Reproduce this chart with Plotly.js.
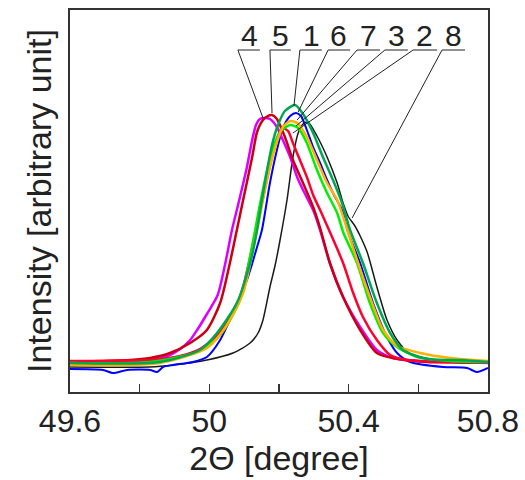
<!DOCTYPE html>
<html>
<head>
<meta charset="utf-8">
<script src="https://cdn.plot.ly/plotly-3.0.1.min.js"></script>
<style>html,body{margin:0;padding:0;background:#fff;}#chart{width:525px;height:480px;}</style>
</head>
<body>
<div id="chart"></div>
<script>
// ---- Data (2Theta in degrees, intensity in arbitrary units) ----
const x4 = [49.600,49.686,49.772,49.830,49.887,49.916,49.945,49.965,49.993,50.024,50.046,50.065,50.088,50.108,50.123,50.134,50.145,50.160,50.174,50.194,50.211,50.232,50.252,50.269,50.298,50.318,50.346,50.384,50.433,50.481,50.527,50.605,50.720,50.800];
const y4 = [30,30,31,32,37,43,52,62,78,97,129,162,195,225,252,267,273,274,273,265,252,235,215,202,182,162,129,95,65,42,34,31,30,29];

const x5 = [49.600,49.686,49.772,49.830,49.887,49.945,49.993,50.031,50.059,50.079,50.097,50.123,50.137,50.154,50.168,50.180,50.194,50.217,50.240,50.269,50.298,50.318,50.346,50.384,50.433,50.481,50.527,50.625,50.800];
const y5 = [30,31,32,34,39,49,62,89,129,162,192,235,260,272,276,277,273,255,232,209,185,164,129,95,62,39,34,30,30];

const x2 = [49.600,49.830,49.916,49.973,50.031,50.088,50.125,50.145,50.166,50.183,50.197,50.211,50.226,50.240,50.260,50.280,50.298,50.318,50.346,50.384,50.413,50.441,50.481,50.519,50.567,50.662,50.800];
const y2 = [31,32,36,43,60,95,147,180,214,240,256,264,261,249,232,215,197,182,160,129,99,75,52,37,32,30,30];

const x3 = [49.600,49.830,49.973,50.031,50.088,50.125,50.145,50.166,50.186,50.206,50.232,50.255,50.280,50.309,50.338,50.367,50.384,50.424,50.461,50.499,50.539,50.596,50.691,50.800];
const y3 = [29,30,41,57,92,150,187,222,247,261,267,264,249,222,199,179,160,129,89,59,45,35,31,30];

const x7 = [49.600,49.858,49.993,50.045,50.097,50.131,50.154,50.174,50.194,50.211,50.232,50.252,50.280,50.309,50.338,50.367,50.390,50.424,50.461,50.499,50.539,50.605,50.691,50.800];
const y7 = [27,29,44,64,99,152,192,225,250,265,271,269,255,232,209,192,169,132,95,62,46,39,34,31];

const x1 = [49.600,49.858,49.973,50.022,50.079,50.117,50.137,50.151,50.166,50.180,50.197,50.217,50.246,50.269,50.298,50.326,50.355,50.381,50.404,50.441,50.481,50.519,50.556,50.625,50.720,50.800];
const y1 = [29,30,42,59,89,129,162,192,222,247,267,281,287,278,259,235,212,189,162,129,89,59,42,33,32,30];

const x6 = [49.600,49.695,49.723,49.764,49.830,49.850,49.867,49.896,49.953,49.993,50.031,50.068,50.108,50.137,50.151,50.174,50.194,50.211,50.232,50.249,50.263,50.280,50.298,50.318,50.338,50.355,50.381,50.398,50.433,50.470,50.510,50.539,50.576,50.671,50.740,50.768,50.800];
const y6 = [23,22,19,22,22,20,25,27,30,35,52,79,112,145,162,209,242,264,276,279,276,262,245,229,212,199,182,160,129,89,55,39,30,25,24,20,24];

const x8 = [49.600,49.830,49.896,49.993,50.068,50.117,50.140,50.154,50.174,50.189,50.203,50.223,50.240,50.255,50.269,50.283,50.309,50.338,50.367,50.384,50.398,50.418,50.433,50.453,50.481,50.510,50.539,50.576,50.671,50.749,50.800];
const y8 = [25,25,27,32,39,49,59,72,105,127,152,192,235,259,268,270,256,235,209,189,176,166,156,140,105,72,52,38,31,29,31];

// tick values and labels
const tickVals = [49.6, 49.8, 50.0, 50.2, 50.4, 50.6, 50.8];
const tickText = ['49.6', '', '50', '', '50.4', '', '50.8'];

// curve labels and leader lines
const labelNames = ['4','5','1','6','7','3','2','8'];
const labelX     = [50.114,50.204,50.292,50.372,50.457,50.537,50.619,50.701];
const barStartX  = [50.082,50.174,50.260,50.341,50.424,50.504,50.585,50.668];
const barEndX    = [50.145,50.234,50.323,50.404,50.490,50.570,50.654,50.734];
const leaderEndX = [50.154,50.180,50.243,50.255,50.252,50.249,50.240,50.410];
const leaderEndY = [274,279,286,280,272,266,259,174];
const labelY = 357, barY = 342;

const series = [
  {x: x8, y: y8, color: '#1a1a1a', w: 1.5},
  {x: x6, y: y6, color: '#0000ff', w: 2},
  {x: x4, y: y4, color: '#dd00ff', w: 2.5},
  {x: x5, y: y5, color: '#c8000f', w: 2.5},
  {x: x2, y: y2, color: '#ff0030', w: 2.5},
  {x: x3, y: y3, color: '#00ee00', w: 2.5},
  {x: x7, y: y7, color: '#ffb000', w: 2.5},
  {x: x1, y: y1, color: '#00a651', w: 2.5}
];

const traces = series.map(s => ({
  x: s.x, y: s.y, type: 'scatter', mode: 'lines',
  line: {color: s.color, width: s.w, shape: 'spline', smoothing: 0.7},
  hoverinfo: 'skip', showlegend: false
}));

const shapes = [];
const annotations = [];
for (let i = 0; i < labelNames.length; i++) {
  shapes.push({type: 'line', xref: 'x', yref: 'y', x0: barStartX[i], x1: barEndX[i], y0: barY, y1: barY, line: {color: '#222', width: 1}});
  shapes.push({type: 'line', xref: 'x', yref: 'y', x0: barStartX[i], x1: leaderEndX[i], y0: barY, y1: leaderEndY[i], line: {color: '#222', width: 1}});
  annotations.push({x: labelX[i], y: labelY, xref: 'x', yref: 'y', text: labelNames[i], showarrow: false,
    font: {family: 'Liberation Sans, Arial, sans-serif', size: 30, color: '#222'}, yanchor: 'middle'});
}

const layout = {
  width: 525, height: 480,
  margin: {l: 70, r: 37, t: 10, b: 88},
  paper_bgcolor: '#fff', plot_bgcolor: '#fff',
  font: {family: 'Liberation Sans, Arial, sans-serif', color: '#222'},
  xaxis: {
    range: [49.6, 50.8], tickmode: 'array', tickvals: tickVals, ticktext: tickText,
    ticks: 'inside', ticklen: 8, tickwidth: 1.5, tickcolor: '#333',
    showline: true, mirror: true, linecolor: '#333', linewidth: 2,
    showgrid: false, zeroline: false,
    tickfont: {size: 32, color: '#222'},
    title: {text: '2\u0398 [degree]', font: {size: 34, color: '#222'}, standoff: 6}
  },
  yaxis: {
    range: [0, 382], showticklabels: false, ticks: '',
    showline: true, mirror: true, linecolor: '#333', linewidth: 2,
    showgrid: false, zeroline: false,
    title: {text: 'Intensity [arbitrary unit]', font: {size: 34, color: '#222'}, standoff: 6}
  },
  shapes: shapes,
  annotations: annotations
};

Plotly.newPlot('chart', traces, layout, {displayModeBar: false, staticPlot: true});
</script>
</body>
</html>
